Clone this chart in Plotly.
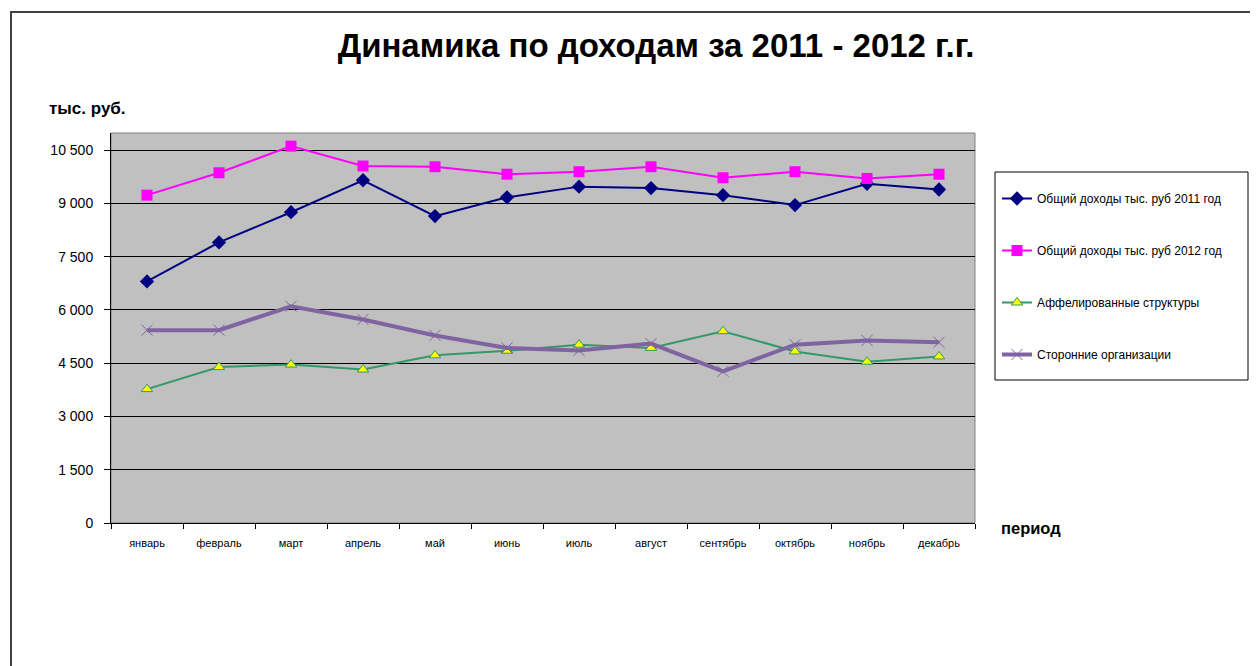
import plotly.graph_objects as go

# ─── Data ──────────────────────────────────────────────────────────────────────
MONTHS = ["январь", "февраль", "март", "апрель", "май", "июнь",
          "июль", "август", "сентябрь", "октябрь", "ноябрь", "декабрь"]

INCOME_2011 = [6800, 7900, 8750, 9650, 8640, 9170, 9470, 9430, 9230, 8950, 9550, 9390]
INCOME_2012 = [9230, 9860, 10610, 10050, 10030, 9820, 9890, 10030, 9720, 9890, 9700, 9820]
AFFILIATED = [3770, 4390, 4460, 4320, 4720, 4850, 5020, 4930, 5400, 4830, 4540, 4690]
THIRD_PARTY = [5430, 5430, 6100, 5730, 5280, 4930, 4860, 5050, 4270, 5020, 5140, 5090]

Y_TICKS = [0, 1500, 3000, 4500, 6000, 7500, 9000, 10500]
Y_TICK_LABELS = ["0", "1 500", "3 000", "4 500", "6 000", "7 500", "9 000", "10 500"]

NAMES = ["Общий доходы тыс. руб 2011 год", "Общий доходы тыс. руб 2012 год",
         "Аффелированные структуры", "Сторонние организации"]

# ─── Styling ───────────────────────────────────────────────────────────────────
FONT = "Liberation Sans, Arial, sans-serif"
NAVY = "#000080"
MAGENTA = "#FF00FF"
GREEN = "#339966"
YELLOW = "#FFFF00"
PURPLE = "#8064A2"
PLOT_BG = "#C0C0C0"

# page body has an 8px margin, so the figure is shifted by that much
OFF = 8
W, H = 1258 - OFF, 666 - OFF
L, R, T, B = 111, 975, 133, 523  # plot area in screenshot pixels


def px_x(px):
    return (px - L) / (R - L)


def px_y(py):
    return (B - py) / (B - T)


fig = go.Figure()

fig.add_trace(go.Scatter(
    x=MONTHS, y=INCOME_2011, name=NAMES[0], mode="lines+markers", legendgroup="a",
    line=dict(color=NAVY, width=2),
    marker=dict(symbol="diamond", size=11, color=NAVY),
))
fig.add_trace(go.Scatter(
    x=MONTHS, y=INCOME_2012, name=NAMES[1], mode="lines+markers", legendgroup="b",
    line=dict(color=MAGENTA, width=2),
    marker=dict(symbol="square", size=11, color=MAGENTA),
))
fig.add_trace(go.Scatter(
    x=MONTHS, y=AFFILIATED, name=NAMES[2], mode="lines+markers", legendgroup="c",
    line=dict(color=GREEN, width=2),
    marker=dict(symbol="triangle-up", size=10, color=YELLOW,
                line=dict(color=GREEN, width=1)),
))
fig.add_trace(go.Scatter(
    x=MONTHS, y=THIRD_PARTY, name=NAMES[3], mode="lines+markers", legendgroup="d",
    line=dict(color=PURPLE, width=4),
    marker=dict(symbol="x-thin-open", size=11, color=PURPLE,
                line=dict(color=PURPLE, width=1)),
))

fig.update_layout(
    width=W, height=H,
    margin=dict(l=L - OFF, r=W - (R - OFF), t=T - OFF, b=H - (B - OFF), autoexpand=False),
    paper_bgcolor="white",
    plot_bgcolor=PLOT_BG,
    font=dict(family=FONT, color="#000000", size=12),
    title=dict(text="<b>Динамика по доходам за 2011 - 2012 г.г.</b>",
               x=px_x(656), xref="paper", xanchor="center",
               y=1 - (45 - OFF) / H, yanchor="middle",
               font=dict(size=33, family=FONT, color="#000000")),
    legend=dict(x=px_x(997), y=px_y(184), xanchor="left", yanchor="top",
                bgcolor="rgba(0,0,0,0)", borderwidth=0,
                tracegroupgap=33, itemwidth=30,
                font=dict(size=12, family=FONT, color="#000000")),
    showlegend=True,
)

fig.update_xaxes(
    type="category", range=[-0.5, len(MONTHS) - 0.5],
    showgrid=False, showline=True, linecolor="#000000", linewidth=1,
    ticks="outside", tickson="boundaries", ticklen=5, tickcolor="#000000",
    ticklabelstandoff=10,
    tickfont=dict(size=11, family=FONT, color="#000000"),
    zeroline=False,
)
fig.update_yaxes(
    range=[0, 10980], tickvals=Y_TICKS, ticktext=Y_TICK_LABELS,
    showgrid=True, gridcolor="#000000", gridwidth=1,
    showline=True, linecolor="#000000", linewidth=1,
    ticks="outside", ticklen=6, tickcolor="#000000",
    ticklabelstandoff=8,
    tickfont=dict(size=14, family=FONT, color="#000000"),
    zeroline=False,
)

# plot area frame (top / right)
fig.add_shape(type="rect", xref="paper", yref="paper", x0=0, x1=1, y0=0, y1=1,
              line=dict(color="#808080", width=1), layer="below")
# legend box
fig.add_shape(type="rect", xref="paper", yref="paper",
              x0=px_x(995), x1=px_x(1248), y0=px_y(380), y1=px_y(172),
              line=dict(color="#000000", width=1))
# outer chart border
fig.add_shape(type="rect", xref="paper", yref="paper",
              x0=px_x(11), x1=px_x(1270), y0=px_y(680), y1=px_y(12),
              line=dict(color="#404040", width=2))

fig.add_annotation(text="<b>тыс. руб.</b>", xref="paper", yref="paper",
                   x=px_x(47), y=px_y(108), xanchor="left", yanchor="middle",
                   showarrow=False, font=dict(size=17, family=FONT, color="#000000"))
fig.add_annotation(text="<b>период</b>", xref="paper", yref="paper",
                   x=px_x(999), y=px_y(528), xanchor="left", yanchor="middle",
                   showarrow=False, font=dict(size=16.5, family=FONT, color="#000000"))

fig.write_html("out.html")
